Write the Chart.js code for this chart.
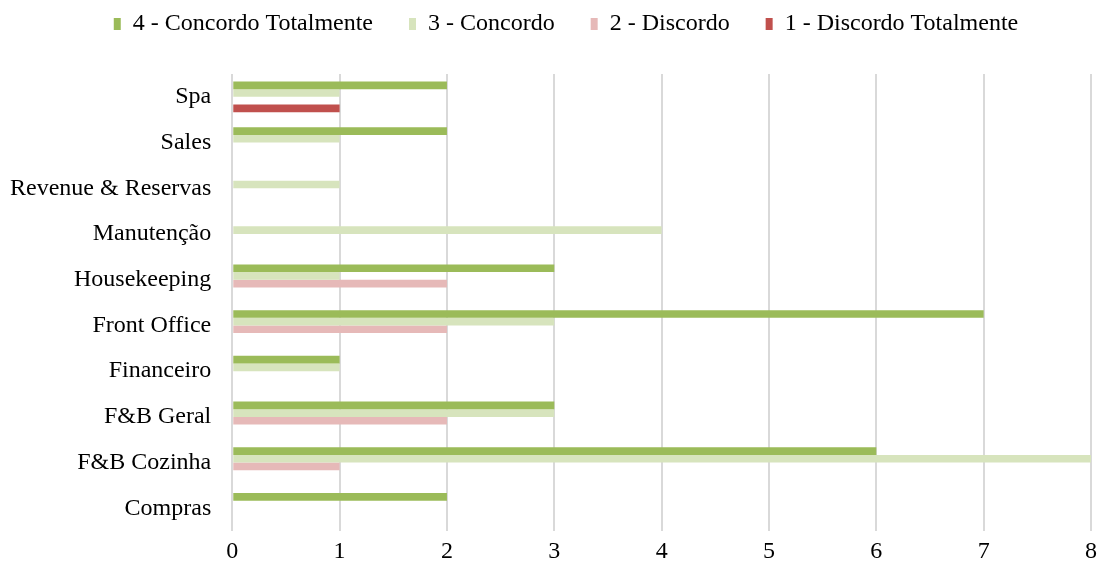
<!DOCTYPE html>
<html>
<head>
<meta charset="utf-8">
<script src="https://cdn.jsdelivr.net/npm/chart.js@4"></script>
<style>
  html, body { margin: 0; padding: 0; background: #fff; }
  #wrap { width: 1099px; height: 572px; }
</style>
</head>
<body>
<div id="wrap"><canvas id="barchart"></canvas></div>
<script>
const categories = ['Spa', 'Sales', 'Revenue & Reservas', 'Manutenção', 'Housekeeping', 'Front Office', 'Financeiro', 'F&B Geral', 'F&B Cozinha', 'Compras'];
const concordoTotalmente = [2, 2, 0, 0, 3, 7, 1, 3, 6, 2];
const concordo = [1, 1, 1, 4, 1, 3, 1, 3, 8, 0];
const discordo = [0, 0, 0, 0, 2, 2, 0, 2, 1, 0];
const discordoTotalmente = [1, 0, 0, 0, 0, 0, 0, 0, 0, 0];
const xTicks = [0, 1, 2, 3, 4, 5, 6, 7, 8];

const font = 'Liberation Serif, Times New Roman, serif';

// extra room under the legend, and nudge it a bit to the right
const legendGap = {
    id: 'legendGap',
    beforeInit(chart) {
        const fit = chart.legend.fit;
        chart.legend.fit = function () {
            fit.bind(chart.legend)();
            this.height += 28;
        };
    },
    afterLayout(chart) {
        chart.legend.left += 22;
        chart.legend.right += 22;
    }
};

const ctx = document.getElementById('barchart').getContext('2d');
const barchart = new Chart(ctx, {
    type: 'bar',
    data: {
        labels: categories,
        datasets: [
            { label: '4 - Concordo Totalmente', data: concordoTotalmente, backgroundColor: '#9bbb59' },
            { label: '3 - Concordo', data: concordo, backgroundColor: '#d7e4bd' },
            { label: '2 - Discordo', data: discordo, backgroundColor: '#e6b9b8' },
            { label: '1 - Discordo Totalmente', data: discordoTotalmente, backgroundColor: '#c0504d' }
        ]
    },
    options: {
        indexAxis: 'y',
        responsive: true,
        maintainAspectRatio: false,
        animation: false,
        layout: { padding: { left: -3, right: 8, top: -24, bottom: 0 } },
        datasets: {
            bar: { categoryPercentage: 0.67, barPercentage: 1.0, borderWidth: 0 }
        },
        scales: {
            x: {
                min: 0,
                max: 8,
                afterBuildTicks: (axis) => { axis.ticks = xTicks.map(v => ({ value: v })); },
                afterFit: (axis) => { axis.paddingRight = 0; },
                grid: { color: '#d9d9d9', lineWidth: 2, drawTicks: false },
                border: { display: false },
                ticks: { color: '#000', padding: 6, font: { family: font, size: 24 } }
            },
            y: {
                grid: { display: false },
                border: { display: false },
                ticks: { color: '#000', padding: 13, font: { family: font, size: 24 } }
            }
        },
        plugins: {
            legend: {
                position: 'top',
                labels: {
                    color: '#000',
                    boxWidth: 7,
                    boxHeight: 12,
                    padding: 36,
                    font: { family: font, size: 24 }
                }
            },
            tooltip: { enabled: false }
        }
    },
    plugins: [legendGap]
});
</script>
</body>
</html>
